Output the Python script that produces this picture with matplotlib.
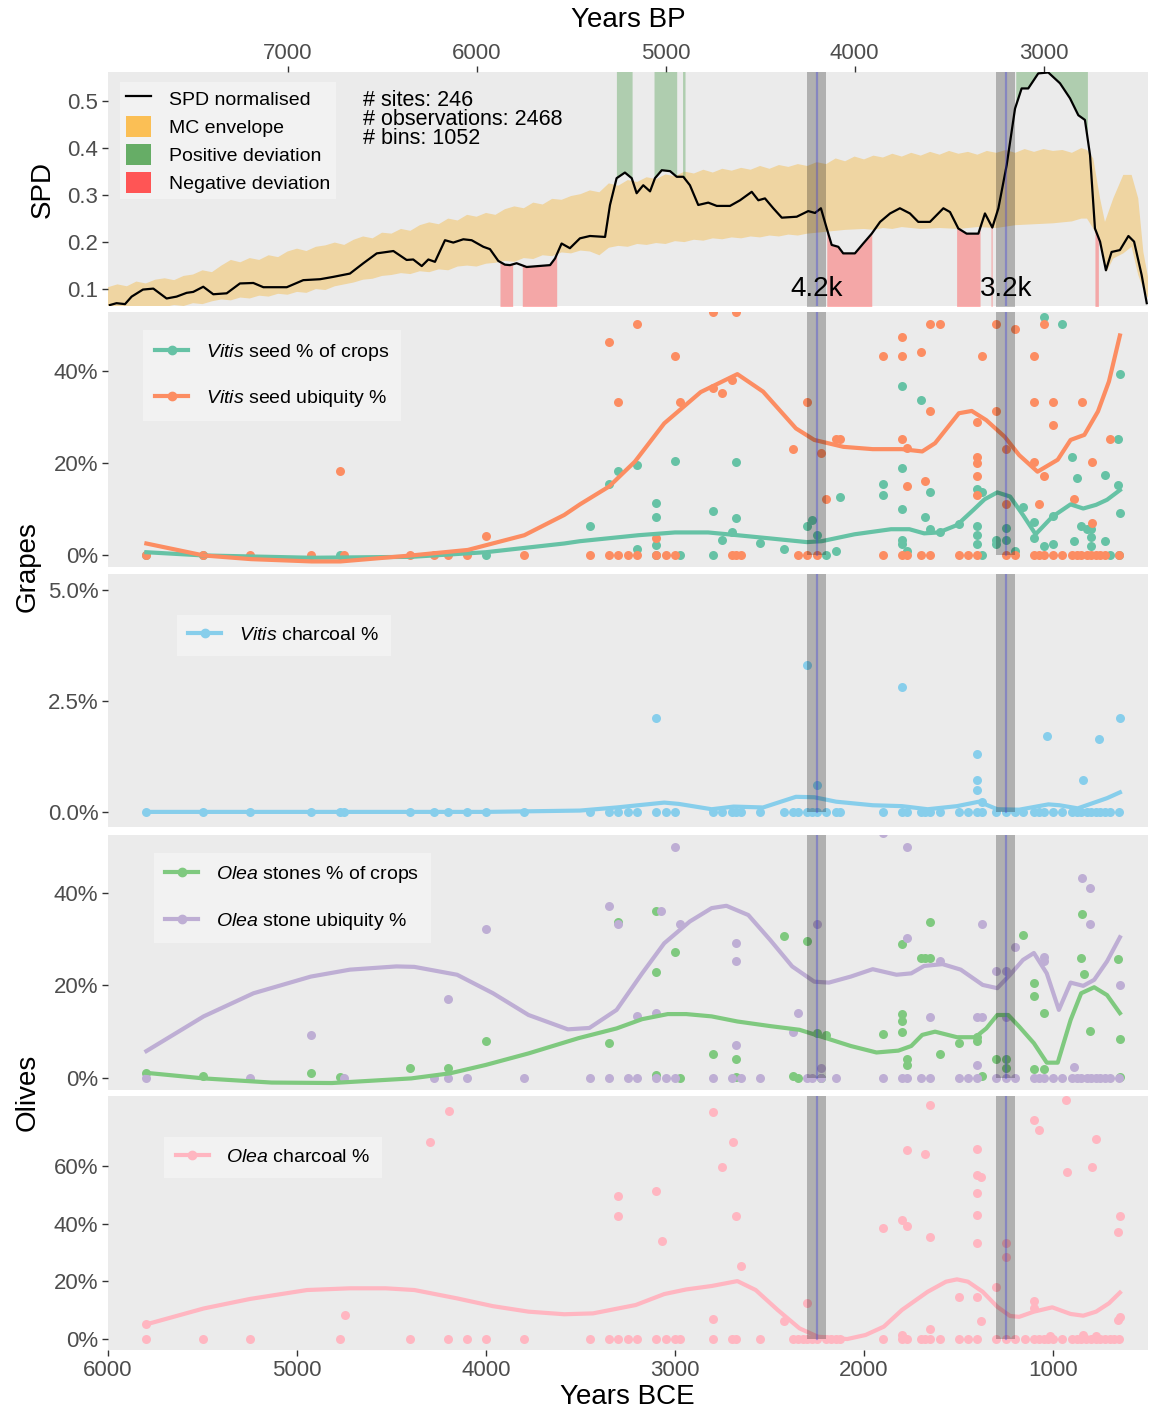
import matplotlib
matplotlib.use('Agg')
import matplotlib.pyplot as plt
from matplotlib.lines import Line2D
from matplotlib.patches import Patch
import numpy as np

plt.rcParams['font.family'] = ['Liberation Sans', 'DejaVu Sans']
plt.rcParams['mathtext.fontset'] = 'custom'
plt.rcParams['mathtext.rm'] = 'Liberation Sans'
plt.rcParams['mathtext.it'] = 'Liberation Sans:italic'

# ---------------- SPD panel data (years BCE) ----------------
spd_x = [5990, 5955, 5910, 5875, 5815, 5760, 5690, 5637, 5584, 5549, 5496, 5443, 5372, 5302,
         5231, 5178, 5054, 4967, 4878, 4808, 4720, 4649, 4578, 4490, 4420, 4385, 4340, 4305,
         4270, 4217, 4173, 4120, 4076, 4014, 3979, 3935, 3900, 3873, 3838, 3785, 3661, 3635,
         3600, 3556, 3503, 3450, 3370, 3344, 3309, 3265, 3229, 3203, 3168, 3132, 3106, 3070,
         3026, 2991, 2956, 2921, 2877, 2824, 2779, 2709, 2656, 2594, 2559, 2524, 2480, 2435,
         2356, 2295, 2259, 2228, 2197, 2171, 2136, 2110, 2048, 2004, 1959, 1915, 1862, 1810,
         1757, 1713, 1651, 1580, 1545, 1501, 1457, 1395, 1360, 1321, 1289, 1245, 1201, 1166,
         1131, 1078, 1025, 963, 910, 866, 831, 804, 778, 751, 720, 690, 646, 601, 571, 531, 504]
spd_y = [0.066, 0.070, 0.068, 0.084, 0.099, 0.101, 0.080, 0.084, 0.092, 0.094, 0.105, 0.089,
         0.091, 0.112, 0.113, 0.104, 0.104, 0.119, 0.121, 0.126, 0.133, 0.155, 0.176, 0.181,
         0.162, 0.163, 0.149, 0.163, 0.158, 0.204, 0.199, 0.206, 0.204, 0.190, 0.185, 0.160,
         0.152, 0.151, 0.155, 0.147, 0.151, 0.165, 0.197, 0.187, 0.208, 0.213, 0.211, 0.279,
         0.336, 0.348, 0.336, 0.304, 0.321, 0.308, 0.336, 0.353, 0.351, 0.339, 0.339, 0.321,
         0.279, 0.284, 0.277, 0.277, 0.289, 0.307, 0.289, 0.293, 0.272, 0.252, 0.254, 0.266,
         0.262, 0.272, 0.229, 0.194, 0.190, 0.176, 0.176, 0.197, 0.218, 0.243, 0.261, 0.272,
         0.261, 0.243, 0.243, 0.272, 0.264, 0.229, 0.218, 0.218, 0.261, 0.231, 0.272, 0.364,
         0.484, 0.527, 0.527, 0.559, 0.561, 0.538, 0.506, 0.470, 0.460, 0.385, 0.229, 0.201,
         0.140, 0.179, 0.183, 0.213, 0.201, 0.130, 0.070]

# MC envelope, upper and lower edges
env_hi_x = [6000, 5950, 5900, 5850, 5800, 5750, 5700, 5650, 5600, 5550, 5500, 5450, 5400, 5350,
            5300, 5250, 5200, 5150, 5100, 5050, 5000, 4950, 4900, 4850, 4800, 4750, 4700, 4650,
            4600, 4550, 4500, 4450, 4400, 4350, 4300, 4250, 4200, 4150, 4100, 4050, 4000, 3950,
            3900, 3850, 3800, 3750, 3700, 3650, 3600, 3550, 3500, 3450, 3400, 3350, 3300, 3250,
            3200, 3150, 3100, 3050, 3000, 2950, 2900, 2850, 2800, 2750, 2700, 2650, 2600, 2550,
            2500, 2450, 2400, 2350, 2300, 2250, 2200, 2150, 2100, 2050, 2000, 1950, 1900, 1850,
            1800, 1750, 1700, 1650, 1600, 1550, 1500, 1450, 1400, 1350, 1300, 1250, 1200, 1150,
            1100, 1050, 1000, 950, 900, 850, 820, 787, 751, 725, 681, 628, 584, 549, 522, 496]
env_hi_y = [0.104, 0.110, 0.106, 0.116, 0.112, 0.120, 0.123, 0.119, 0.128, 0.131, 0.140, 0.136,
            0.150, 0.162, 0.157, 0.166, 0.162, 0.172, 0.168, 0.180, 0.186, 0.181, 0.190, 0.193,
            0.199, 0.194, 0.205, 0.212, 0.208, 0.220, 0.218, 0.228, 0.224, 0.236, 0.242, 0.238,
            0.250, 0.246, 0.258, 0.254, 0.262, 0.258, 0.270, 0.276, 0.272, 0.284, 0.280, 0.292,
            0.290, 0.298, 0.302, 0.310, 0.306, 0.325, 0.320, 0.332, 0.328, 0.338, 0.334, 0.344,
            0.340, 0.350, 0.346, 0.354, 0.348, 0.356, 0.352, 0.358, 0.354, 0.362, 0.356, 0.364,
            0.360, 0.366, 0.362, 0.370, 0.366, 0.378, 0.372, 0.382, 0.376, 0.384, 0.380, 0.388,
            0.382, 0.390, 0.384, 0.392, 0.386, 0.394, 0.388, 0.392, 0.386, 0.394, 0.390, 0.396,
            0.390, 0.398, 0.392, 0.398, 0.394, 0.396, 0.390, 0.400, 0.396, 0.378, 0.293, 0.243,
            0.293, 0.343, 0.343, 0.293, 0.179, 0.123]
env_lo_x = [6000, 5700, 5650, 5600, 5550, 5500, 5450, 5400, 5350, 5300, 5250, 5200, 5150, 5100,
            5050, 5000, 4950, 4900, 4850, 4800, 4750, 4700, 4650, 4600, 4550, 4500, 4450, 4400,
            4350, 4300, 4250, 4200, 4150, 4100, 4050, 4000, 3950, 3900, 3850, 3800, 3750, 3700,
            3650, 3600, 3550, 3500, 3450, 3400, 3350, 3300, 3250, 3200, 3150, 3100, 3050, 3000,
            2950, 2900, 2850, 2800, 2750, 2700, 2650, 2600, 2550, 2500, 2450, 2400, 2350, 2300,
            2250, 2200, 2150, 2100, 2000, 1950, 1900, 1850, 1800, 1700, 1600, 1500, 1400, 1300,
            1200, 1100, 1000, 900, 850, 820, 787, 751, 725, 716, 681, 628, 584, 549, 522, 496]
env_lo_y = [0.050, 0.062, 0.066, 0.064, 0.070, 0.068, 0.074, 0.078, 0.076, 0.082, 0.080, 0.086,
            0.084, 0.090, 0.088, 0.094, 0.092, 0.100, 0.098, 0.106, 0.110, 0.114, 0.120, 0.122,
            0.128, 0.130, 0.134, 0.132, 0.138, 0.136, 0.142, 0.140, 0.148, 0.150, 0.148, 0.154,
            0.156, 0.160, 0.158, 0.166, 0.164, 0.172, 0.170, 0.178, 0.176, 0.182, 0.180, 0.172,
            0.188, 0.192, 0.190, 0.196, 0.194, 0.198, 0.196, 0.202, 0.200, 0.205, 0.203, 0.208,
            0.206, 0.210, 0.208, 0.212, 0.210, 0.214, 0.212, 0.216, 0.214, 0.218, 0.220, 0.222,
            0.224, 0.226, 0.228, 0.226, 0.230, 0.228, 0.232, 0.228, 0.230, 0.228, 0.232, 0.230,
            0.236, 0.238, 0.240, 0.244, 0.250, 0.250, 0.229, 0.201, 0.150, 0.137, 0.165, 0.176,
            0.190, 0.130, 0.100, 0.080]

pos_dev = [(3310, 3227), (3111, 2991), (2960, 2947), (1197, 818)]
neg_dev = [(3926, 3859), (3808, 3626), (2197, 1959), (1510, 1386), (1328, 1322), (778, 760)]

# climate events (BCE): 4.2k and 3.2k BP
events = [2250, 1250]
event_labels = ['4.2k', '3.2k']
event_halfwidth = 50

# ---------------- Grapes ----------------
vs_crop_x = [5800, 5500, 4775, 4000, 3100, 2975, 2800, 2200, 1375, 700, 650,
             3450, 3350, 3300, 3200, 3200, 3100, 3100, 3100, 3000, 2800, 2750, 2700, 2675, 2675,
             2550, 2425, 2300, 2275, 2250, 2150, 2125, 1900, 1900, 1800, 1800, 1800, 1800, 1800,
             1775, 1700, 1675, 1650, 1650, 1600, 1500, 1400, 1375, 1400, 1400, 1400, 1300, 1300,
             1250, 1250, 1200, 1160, 1100, 1100, 1050, 1050, 1000, 1000, 950, 900, 875, 850, 820,
             800, 800, 800, 890, 725, 725, 655, 655, 645, 645]
vs_crop_y = [0, 0, 0, 0, 0, 0, 0, 0, 0, 0, 0,
             6.3, 15.4, 18.3, 19.6, 1.3, 11.2, 8.3, 2.2, 20.5, 9.6, 3.3, 4.9, 20.1, 8.1,
             2.5, 1.4, 6.2, 7.6, 4.3, 0.9, 12.5, 15.4, 13.0, 36.7, 19.0, 10.1, 3.3, 2.3,
             0.9, 33.7, 8.3, 13.6, 5.7, 5.1, 6.7, 14.3, 13.6, 6.3, 4.3, 2.3, 3.3, 2.3,
             5.8, 3.3, 0.9, 10.4, 7.1, 3.6, 51.7, 2.0, 8.5, 2.3, 50.2, 21.4, 16.8, 6.3, 5.7,
             5.7, 3.9, 2.0, 3.0, 17.4, 3.0, 25.1, 15.2, 39.3, 9.1]

vs_ubiq_x = [5800, 5500, 5250, 4925, 4750, 4400, 4275, 4200, 4100, 3800, 3450, 3350, 3300, 3250,
             3200, 3100, 3050, 3000, 2700, 2675, 2650, 2350, 2300, 2250, 1900, 1800, 1775, 1700,
             1650, 1500, 1450, 1400, 1250, 1200, 1100, 1075, 1050, 1000, 950, 900, 875, 850, 820,
             800, 775, 750, 725, 650,
             4770, 4000, 3350, 3300, 3200, 3100, 3000, 2975, 2800, 2675, 2800, 2750, 2700, 2375,
             2300, 2225, 2200, 2150, 2125, 1900, 1800, 1800, 1800, 1775, 1775, 1700, 1675, 1650,
             1650, 1600, 1400, 1400, 1400, 1400, 1400, 1375, 1300, 1300, 1250, 1250, 1200, 1100,
             1100, 1100, 1075, 1050, 1050, 1000, 1000, 890, 845, 795, 795, 700]
vs_ubiq_y = [0] * 48 + [
             18.3, 4.1, 46.2, 33.2, 50.2, 3.6, 43.3, 33.2, 52.9, 52.9, 36.2, 35.1, 38.0, 23.0,
             33.2, 22.1, 12.1, 25.1, 25.1, 43.3, 47.3, 43.3, 25.1, 23.2, 15.0, 44.2, 16.1, 31.2,
             50.2, 50.2, 29.0, 21.4, 19.9, 17.2, 13.0, 43.3, 50.2, 31.2, 23.0, 11.0, 49.1, 43.3,
             33.2, 20.3, 11.0, 17.2, 50.2, 33.2, 28.3, 12.1, 33.2, 20.1, 7.0, 25.1]

vs_crop_fit_x = [5797, 5494, 4922, 4395, 4002, 3586, 3503, 3193, 3000, 2825, 2670, 2496, 2302,
                 2224, 2050, 1857, 1760, 1682, 1605, 1508, 1421, 1362, 1295, 1227, 1159, 1092,
                 1004, 907, 840, 772, 714, 646]
vs_crop_fit_y = [0.6, -0.1, -0.6, -0.4, 0.6, 2.5, 3.0, 4.3, 4.9, 4.9, 4.3, 3.6, 2.8, 3.0, 4.5,
                 5.6, 5.6, 4.7, 4.9, 6.5, 9.8, 12.1, 13.6, 12.7, 8.7, 4.5, 8.3, 11.0, 10.1, 10.9,
                 12.0, 14.1]
vs_ubiq_fit_x = [5797, 5494, 5243, 4922, 4770, 4395, 4096, 3797, 3586, 3503, 3348, 3212, 3057,
                 2864, 2670, 2534, 2360, 2263, 2109, 1954, 1799, 1692, 1624, 1498, 1430, 1353,
                 1256, 1179, 1082, 975, 907, 834, 762, 704, 646]
vs_ubiq_fit_y = [2.5, -0.1, -0.9, -1.4, -1.4, -0.1, 1.1, 4.3, 8.7, 11.0, 14.9, 20.3, 28.6, 35.4,
                 39.3, 35.5, 27.5, 25.0, 23.5, 23.0, 23.0, 22.5, 24.3, 30.8, 31.3, 29.3, 25.7,
                 21.7, 18.1, 20.7, 25.0, 26.1, 31.2, 37.7, 47.7]

# ---------------- Vitis charcoal ----------------
site_dates = [5800, 5500, 5250, 4925, 4775, 4750, 4400, 4275, 4200, 4100, 4000, 3800, 3450,
              3350, 3300, 3250, 3200, 3100, 3050, 3000, 2800, 2750, 2700, 2675, 2650, 2550, 2425,
              2375, 2350, 2300, 2275, 2250, 2200, 2150, 2125, 1900, 1800, 1775, 1700, 1675, 1650,
              1600, 1500, 1450, 1400, 1375, 1300, 1250, 1200, 1160, 1100, 1075, 1050, 1000, 950,
              900, 875, 850, 820, 800, 775, 750, 725, 700, 650]
vc_x = [3100, 2300, 2250, 1800, 1400, 1400, 1400, 1375, 1030, 840, 758, 646]
vc_y = [2.11, 3.30, 0.61, 2.81, 1.31, 0.71, 0.50, 0.23, 1.71, 0.71, 1.64, 2.11]
vc_fit_x = [5800, 5000, 4000, 3503, 3309, 3057, 2980, 2806, 2690, 2534, 2360, 2263, 2147, 1954,
            1799, 1663, 1508, 1392, 1295, 1179, 1024, 966, 869, 714, 646]
vc_fit_y = [0.0, 0.0, 0.0, 0.03, 0.10, 0.21, 0.18, 0.06, 0.12, 0.10, 0.34, 0.33, 0.23, 0.15,
            0.13, 0.06, 0.13, 0.23, 0.06, 0.05, 0.17, 0.15, 0.08, 0.31, 0.44]

# ---------------- Olives ----------------
os_crop_x = [2975, 2350, 2225,
             5800, 5500, 4925, 4770, 4400, 4200, 4000, 3350, 3300, 3100, 3100, 3100, 3000, 2800,
             2675, 2675, 2425, 2375, 2300, 2250, 2200, 1900, 1800, 1800, 1800, 1800, 1775, 1775,
             1700, 1675, 1650, 1650, 1600, 1500, 1400, 1400, 1375, 1300, 1250, 1250, 1160, 1100,
             1100, 1050, 1100, 1050, 845, 850, 835, 805, 655, 645, 645]
os_crop_y = [0, 0, 0,
             1.0, 0.4, 1.0, 0.2, 2.1, 2.1, 8.0, 7.6, 33.8, 36.1, 23.0, 0.7, 27.3, 5.2,
             4.0, 0.3, 30.6, 0.5, 29.5, 9.7, 9.2, 9.5, 28.9, 13.8, 12.2, 9.9, 4.0, 2.8,
             25.9, 25.9, 25.9, 33.6, 5.2, 7.6, 8.8, 8.0, 0.5, 4.0, 4.0, 2.1, 30.9, 20.6,
             17.6, 14.1, 2.0, 2.0, 35.4, 25.9, 22.5, 10.2, 25.7, 8.4, 0.3]

os_ubiq_x = [5800, 5250, 4750, 4275, 4200, 4100, 3800, 3450, 3350, 3250, 3200, 3100, 3050, 3000,
             2800, 2700, 2650, 2550, 2300, 2275, 2225, 2150, 1900, 1800, 1775, 1700, 1650, 1500,
             1450, 1400, 1300, 1250, 1200, 1100, 1075, 1050, 1000, 950, 900, 875, 850, 820, 800,
             775, 750, 725, 700, 650,
             5500, 4925, 4770, 4200, 4000, 3350, 3300, 3200, 3100, 3075, 3000, 2975, 2675, 2675,
             2675, 2375, 2350, 2250, 2225, 1900, 1775, 1775, 1600, 1650, 1400, 1400, 1375, 1375,
             1300, 1250, 1250, 1200, 1050, 1050, 890, 845, 805, 805, 646]
os_ubiq_y = [0] * 48 + [
             40.4, 9.2, 45.5, 17.1, 32.1, 37.2, 33.2, 13.3, 14.1, 36.1, 50.0, 33.2, 29.1, 25.2,
             7.1, 10.0, 14.1, 33.2, 2.2, 52.9, 50.0, 30.2, 25.2, 13.1, 2.8, 13.1, 13.1, 33.2,
             23.2, 23.2, 13.1, 28.3, 26.2, 25.2, 2.3, 43.2, 41.0, 33.2, 20.1]

os_crop_fit_x = [5797, 5494, 5135, 4815, 4395, 4190, 4002, 3775, 3510, 3309, 3174, 3038, 2941,
                 2806, 2670, 2496, 2341, 2224, 2070, 1934, 1818, 1750, 1692, 1624, 1508, 1411,
                 1353, 1295, 1237, 1179, 1101, 1033, 975, 907, 851, 782, 714, 646]
os_crop_fit_y = [1.1, -0.1, -1.0, -1.1, -0.1, 1.0, 2.8, 5.3, 8.6, 10.7, 12.7, 13.8, 13.8, 13.3,
                 12.2, 11.2, 10.4, 8.9, 6.9, 5.5, 5.9, 6.9, 9.3, 10.0, 8.8, 8.8, 10.7, 13.6,
                 13.6, 11.1, 7.5, 3.3, 3.3, 12.5, 18.3, 19.6, 17.9, 14.0]
os_ubiq_fit_x = [5797, 5494, 5230, 4927, 4720, 4474, 4379, 4153, 3963, 3775, 3567, 3453, 3309,
                 3174, 3057, 2922, 2806, 2728, 2612, 2496, 2380, 2263, 2186, 2070, 1954, 1828,
                 1750, 1682, 1585, 1488, 1372, 1295, 1227, 1159, 1101, 1033, 969, 907, 840, 782,
                 714, 646]
os_ubiq_fit_y = [5.8, 13.3, 18.3, 21.9, 23.4, 24.1, 24.0, 22.3, 18.3, 13.6, 10.5, 10.8, 14.7,
                 22.6, 29.1, 33.8, 36.7, 37.2, 35.2, 29.8, 24.1, 20.8, 20.6, 21.9, 23.5, 22.3,
                 22.6, 24.2, 24.6, 23.4, 20.1, 19.4, 22.3, 25.5, 27.0, 22.6, 14.7, 20.6, 19.9,
                 21.2, 25.2, 30.4]

# ---------------- Olea charcoal ----------------
oc_zero_x = [5800, 5500, 5250, 4775, 4400, 4200, 4100, 4000, 3800, 3450, 3350, 3300, 3250, 3200,
             3100, 3050, 3000, 2975, 2800, 2700, 2675, 2550, 2375, 2350, 2325, 2300, 2275, 2250,
             2200, 2175, 2150, 2125, 1900, 1800, 1775, 1700, 1675, 1650, 1600, 1500, 1450, 1400,
             1300, 1250, 1200, 1150, 1100, 1075, 1050, 1025, 1000, 950, 900, 875, 850, 825, 800,
             775, 750, 725, 700, 675, 650]
oc_x = [5800, 4745, 4295, 4195, 3300, 3300, 3100, 3070, 2800, 2800, 2750, 2695, 2675, 2650,
        2425, 2300, 1900, 1800, 1775, 1775, 1800, 1675, 1650, 1650, 1650, 1500, 1400, 1400,
        1380, 1400, 1400, 1400, 1400, 1380, 1300, 1250, 1250, 1100, 1075, 1100, 1100, 1015,
        930, 927, 840, 795, 772, 772, 646, 656, 646, 656]
oc_y = [5.1, 8.3, 68.4, 79.1, 49.6, 42.8, 51.3, 34.0, 78.9, 7.0, 59.8, 68.2, 42.7, 25.4,
        6.2, 12.6, 38.4, 41.3, 39.2, 65.6, 1.4, 64.1, 81.2, 35.5, 3.5, 14.7, 65.8, 56.9,
        56.1, 50.5, 43.0, 33.4, 14.5, 6.2, 18.1, 33.4, 28.3, 76.0, 72.5, 13.3, 10.6, 1.0,
        82.9, 57.8, 1.4, 59.6, 69.3, 1.0, 42.8, 37.0, 7.7, 6.6]
oc_fit_x = [5797, 5494, 5249, 4947, 4720, 4531, 4379, 4153, 3963, 3775, 3586, 3434, 3208, 3057,
            2941, 2806, 2670, 2573, 2457, 2341, 2244, 2089, 1992, 1895, 1799, 1663, 1566, 1508,
            1450, 1372, 1295, 1227, 1179, 1101, 1004, 907, 840, 772, 704, 646]
oc_fit_y = [5.1, 10.6, 13.9, 17.0, 17.6, 17.6, 17.0, 14.1, 11.4, 9.5, 8.6, 8.9, 11.8, 15.6,
            17.2, 18.4, 20.1, 17.0, 10.1, 3.7, 0.8, 0.0, 1.4, 4.3, 10.1, 16.4, 19.9, 20.7,
            19.9, 16.4, 11.2, 8.0, 7.7, 9.5, 11.0, 8.7, 8.1, 9.5, 12.4, 16.1]

# ---------------- styling ----------------
BG = '#EBEBEB'
C_VS_CROP = '#66C2A5'
C_VS_UBIQ = '#FC8D62'
C_VC = '#87CEEB'
C_OS_CROP = '#7FC97F'
C_OS_UBIQ = '#BEAED4'
C_OC = '#FFB6C1'
TICK_COL = '#4D4D4D'

W, H = 1155, 1418
fig = plt.figure(figsize=(W / 100, H / 100), dpi=100)


def px_axes(top, bottom, left=108, right=1147.5):
    return fig.add_axes([left / W, 1 - bottom / H, (right - left) / W, (bottom - top) / H])


def style(ax, ylim, yticks, yticklabels):
    ax.set_facecolor(BG)
    for s in ax.spines.values():
        s.set_visible(False)
    ax.set_xlim(6000, 500)
    ax.set_ylim(*ylim)
    ax.set_yticks(yticks)
    ax.set_yticklabels(yticklabels)
    ax.tick_params(axis='y', length=4, width=1, color='#333333', labelsize=16,
                   labelcolor=TICK_COL, pad=3)
    ax.tick_params(axis='x', bottom=False, labelbottom=False)


def add_events(ax, top):
    for e in events:
        ax.fill_between([e + event_halfwidth, e - event_halfwidth], 0, top,
                        color='black', alpha=0.25, lw=0, zorder=5)
        ax.plot([e, e], [0, top], color='#3A3AE0', alpha=0.35, lw=1.6, zorder=6)


def add_legend(ax, handles, labels, x, y, spacing):
    leg = ax.legend(handles, labels, loc='upper left', bbox_to_anchor=(x, y),
                    frameon=True, facecolor='#F2F2F2', edgecolor='none', framealpha=1,
                    fancybox=False, fontsize=14, numpoints=1, handlelength=1.7,
                    handletextpad=0.9, borderpad=0.6, labelspacing=spacing, borderaxespad=0)
    leg.set_zorder(10)
    return leg


# ---- SPD ----
ax0 = px_axes(72, 306)
style(ax0, (0.064, 0.562), [0.1, 0.2, 0.3, 0.4, 0.5], ['0.1', '0.2', '0.3', '0.4', '0.5'])
ax0.fill(np.concatenate([env_hi_x, env_lo_x[::-1]]), np.concatenate([env_hi_y, env_lo_y[::-1]]),
         color='#EFD5A2', lw=0, zorder=1)
sx = np.array(spd_x)[::-1]
sy = np.array(spd_y)[::-1]
for a, b in pos_dev:
    xs = np.concatenate([[b], sx[(sx > b) & (sx < a)], [a]])
    ax0.fill_between(xs, np.interp(xs, sx, sy), 1, color='#66AA66', alpha=0.45, lw=0, zorder=2)
for a, b in neg_dev:
    xs = np.concatenate([[b], sx[(sx > b) & (sx < a)], [a]])
    ax0.fill_between(xs, 0, np.interp(xs, sx, sy), color='#FF5555', alpha=0.45, lw=0, zorder=2)
ax0.plot(spd_x, spd_y, color='black', lw=1.6, zorder=4)
add_events(ax0, 1)
for e, lab in zip(events, event_labels):
    ax0.text(e, 0.1, lab, ha='center', va='center', fontsize=20, zorder=8)
ax0.text(4651, 0.524, '# sites: 246\n# observations: 2468\n# bins: 1052', ha='left', va='top',
         fontsize=15.5, linespacing=0.88, zorder=8)
spd_handles = [Line2D([0], [0], color='black', lw=1.6),
               Patch(facecolor='#FBBF55', edgecolor='none'),
               Patch(facecolor='#66AD66', edgecolor='none'),
               Patch(facecolor='#FF5555', edgecolor='none')]
leg0 = ax0.legend(spd_handles, ['SPD normalised', 'MC envelope', 'Positive deviation',
                                'Negative deviation'],
                  loc='upper left', bbox_to_anchor=(0.0115, 0.957), frameon=True,
                  facecolor='#F2F2F2', edgecolor='none', framealpha=1, fancybox=False,
                  fontsize=14, handlelength=1.3, handleheight=1.3, handletextpad=0.9,
                  borderpad=0.3, labelspacing=0.35, borderaxespad=0)
leg0.set_zorder(10)
sec = ax0.secondary_xaxis('top', functions=(lambda x: x + 1950, lambda x: x - 1950))
sec.set_xticks([7000, 6000, 5000, 4000, 3000])
sec.set_xticklabels(['7000', '6000', '5000', '4000', '3000'])
sec.tick_params(length=4, width=1, color='#333333', labelsize=16, labelcolor=TICK_COL, pad=2)
for s in sec.spines.values():
    s.set_visible(False)
fig.text(628 / W, 1 - 20 / H, 'Years BP', ha='center', va='center', fontsize=20)

# ---- Grapes ----
ax1 = px_axes(312, 566.5)
style(ax1, (-2.5, 52.8), [0, 20, 40], ['0%', '20%', '40%'])
ax1.scatter(vs_crop_x, vs_crop_y, s=42, color=C_VS_CROP, lw=0, zorder=2)
ax1.scatter(vs_ubiq_x, vs_ubiq_y, s=42, color=C_VS_UBIQ, lw=0, zorder=2)
ax1.plot(vs_crop_fit_x, vs_crop_fit_y, color=C_VS_CROP, lw=3, zorder=3)
ax1.plot(vs_ubiq_fit_x, vs_ubiq_fit_y, color=C_VS_UBIQ, lw=3, zorder=3)
add_events(ax1, 100)
add_legend(ax1, [Line2D([0], [0], color=C_VS_CROP, lw=3, marker='o', ms=6),
                 Line2D([0], [0], color=C_VS_UBIQ, lw=3, marker='o', ms=6)],
           [r'$\it{Vitis}$ seed % of crops', r'$\it{Vitis}$ seed ubiquity %'], 0.034, 0.929, 1.3)

# ---- Vitis charcoal ----
ax2 = px_axes(573.5, 827)
style(ax2, (-0.34, 5.37), [0, 2.5, 5.0], ['0.0%', '2.5%', '5.0%'])
ax2.scatter(site_dates, [0] * len(site_dates), s=42, color=C_VC, lw=0, zorder=2)
ax2.scatter(vc_x, vc_y, s=42, color=C_VC, lw=0, zorder=2)
ax2.plot(vc_fit_x, vc_fit_y, color=C_VC, lw=3, zorder=3)
add_events(ax2, 100)
add_legend(ax2, [Line2D([0], [0], color=C_VC, lw=3, marker='o', ms=6)],
           [r'$\it{Vitis}$ charcoal %'], 0.066, 0.838, 1.3)

# ---- Olives ----
ax3 = px_axes(835, 1089.5)
style(ax3, (-2.5, 52.5), [0, 20, 40], ['0%', '20%', '40%'])
ax3.scatter(os_crop_x, os_crop_y, s=42, color=C_OS_CROP, lw=0, zorder=2)
ax3.scatter(os_ubiq_x, os_ubiq_y, s=42, color=C_OS_UBIQ, lw=0, zorder=2)
ax3.plot(os_crop_fit_x, os_crop_fit_y, color=C_OS_CROP, lw=3, zorder=3)
ax3.plot(os_ubiq_fit_x, os_ubiq_fit_y, color=C_OS_UBIQ, lw=3, zorder=3)
add_events(ax3, 100)
add_legend(ax3, [Line2D([0], [0], color=C_OS_CROP, lw=3, marker='o', ms=6),
                 Line2D([0], [0], color=C_OS_UBIQ, lw=3, marker='o', ms=6)],
           [r'$\it{Olea}$ stones % of crops', r'$\it{Olea}$ stone ubiquity %'], 0.044, 0.931, 1.3)

# ---- Olea charcoal ----
ax4 = px_axes(1096, 1350)
style(ax4, (-3.8, 84.3), [0, 20, 40, 60], ['0%', '20%', '40%', '60%'])
ax4.scatter(oc_zero_x, [0] * len(oc_zero_x), s=42, color=C_OC, lw=0, zorder=2)
ax4.scatter(oc_x, oc_y, s=42, color=C_OC, lw=0, zorder=2)
ax4.plot(oc_fit_x, oc_fit_y, color=C_OC, lw=3, zorder=3)
add_events(ax4, 100)
add_legend(ax4, [Line2D([0], [0], color=C_OC, lw=3, marker='o', ms=6)],
           [r'$\it{Olea}$ charcoal %'], 0.054, 0.839, 1.3)
ax4.set_xticks([6000, 5000, 4000, 3000, 2000, 1000])
ax4.set_xticklabels(['6000', '5000', '4000', '3000', '2000', '1000'])
ax4.tick_params(axis='x', bottom=True, labelbottom=True, length=4, width=1, color='#333333',
                labelsize=16, labelcolor=TICK_COL, pad=3)
ax4.set_xlabel('Years BCE', fontsize=20, labelpad=2)

# ---- row titles ----
fig.text(43 / W, 1 - 189 / H, 'SPD', rotation=90, ha='center', va='center', fontsize=20)
fig.text(28 / W, 1 - 567 / H, 'Grapes', rotation=90, ha='center', va='center', fontsize=20)
fig.text(28 / W, 1 - 1092 / H, 'Olives', rotation=90, ha='center', va='center', fontsize=20)

fig.savefig('out.png', dpi=100, facecolor='white')
